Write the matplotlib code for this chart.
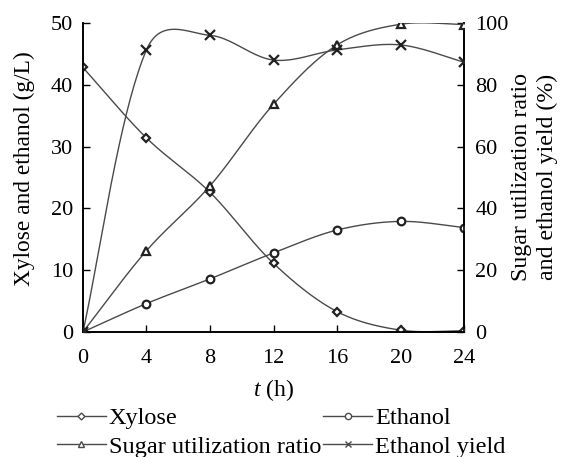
import numpy as np
import matplotlib
matplotlib.use("Agg")
import matplotlib.pyplot as plt
from matplotlib.lines import Line2D

plt.rcParams['font.family'] = ['Liberation Serif', 'DejaVu Serif']
plt.rcParams['mathtext.fontset'] = 'custom'
plt.rcParams['mathtext.it'] = 'Liberation Serif:italic'
plt.rcParams['mathtext.rm'] = 'Liberation Serif'

t = [0, 4, 8, 12, 16, 20, 24]
xylose = [42.8, 31.4, 22.6, 11.1, 3.3, 0.3, 0.2]
ethanol = [0.0, 4.6, 8.6, 12.8, 16.5, 17.9, 16.9]
sugar_util = [0.0, 26.3, 47.3, 73.7, 92.9, 99.6, 99.5]
ethanol_yield = [0.0, 91.3, 96.0, 88.0, 91.3, 92.9, 87.3]


def smooth(x, y, xscale, yscale, n=40):
    """Smoothed line (Bezier with length-weighted Catmull-Rom control points),
    computed in screen-like units."""
    P = np.column_stack([np.asarray(x, float) * xscale, np.asarray(y, float) * yscale])
    out = []
    m = len(P)
    for i in range(m - 1):
        p0 = P[i - 1] if i > 0 else P[i]
        p1 = P[i]
        p2 = P[i + 1]
        p3 = P[i + 2] if i + 2 < m else P[i + 1]
        d01 = np.linalg.norm(p1 - p0)
        d12 = np.linalg.norm(p2 - p1)
        d23 = np.linalg.norm(p3 - p2)
        w1 = d12 / (d01 + d12) if (d01 + d12) > 0 else 0.5
        w2 = d12 / (d12 + d23) if (d12 + d23) > 0 else 0.5
        w1 = (w1 + 0.5) / 2
        w2 = (w2 + 0.5) / 2
        c1 = p1 + (p2 - p0) * w1 / 3.0
        c2 = p2 - (p3 - p1) * w2 / 3.0
        s = np.linspace(0, 1, n)[:, None]
        seg = ((1 - s) ** 3) * p1 + 3 * ((1 - s) ** 2) * s * c1 + 3 * (1 - s) * s ** 2 * c2 + s ** 3 * p2
        out.append(seg if i == 0 else seg[1:])
    out = np.vstack(out)
    return out[:, 0] / xscale, out[:, 1] / yscale


fig = plt.figure(figsize=(5.64, 4.57), dpi=100)
ax = fig.add_axes([0.147, 0.2735, 0.676, 0.6762])
ax2 = ax.twinx()

lc = '#4a4a4a'
mec = '#222222'
ms = 5.5
mew = 1.6

XS = 381 / 24.0
# left-axis series
for data, mk in [(xylose, 'D'), (ethanol, 'o')]:
    sx, sy = smooth(t, data, XS, 309 / 50.0)
    ax.plot(sx, sy, color=lc, lw=1.0, zorder=2)
    ax.plot(t, data, linestyle='none', marker=mk, ms=ms if mk == 'o' else ms - 1,
            mfc='white', mec=mec, mew=mew, zorder=3)

# right-axis series
for data, mk in [(sugar_util, '^'), (ethanol_yield, 'x')]:
    sx, sy = smooth(t, data, XS, 309 / 100.0)
    ax2.plot(sx, sy, color=lc, lw=1.0, zorder=2)
    ax2.plot(t, data, linestyle='none', marker=mk, ms=ms + (0.5 if mk == '^' else 1),
             mfc='white', mec=mec, mew=mew, zorder=3)

ax.set_xlim(0, 24)
ax.set_ylim(0, 50)
ax2.set_ylim(0, 100)
ax.set_xticks(t)
ax.set_yticks([0, 10, 20, 30, 40, 50])
ax2.set_yticks([0, 20, 40, 60, 80, 100])

for a in (ax, ax2):
    a.spines['top'].set_visible(False)
    for s in a.spines.values():
        s.set_linewidth(1.2)
        s.set_color('black')
ax.tick_params(axis='y', direction='in', length=5, width=1.0, labelsize=16, pad=7)
ax.tick_params(axis='x', direction='in', length=5, width=1.0, labelsize=16, pad=12)
ax2.tick_params(axis='y', direction='in', length=5, width=1.0, labelsize=16, pad=8)

ax.set_xlabel(r'$t$ (h)', fontsize=17, labelpad=7)
fig.text(24 / 564, 1 - 169 / 457, 'Xylose and ethanol (g/L)', fontsize=16.8,
         rotation=90, ha='center', va='center')
fig.text(534.5 / 564, 1 - 177 / 457, 'Sugar utilization ratio\nand ethanol yield (%)',
         fontsize=17.2, rotation=90, ha='center', va='center', multialignment='center',
         linespacing=1.35)

handles = [
    Line2D([], [], color=lc, lw=1.0, marker='D', ms=3.5, mfc='white', mec=lc, mew=1.0),
    Line2D([], [], color=lc, lw=1.0, marker='^', ms=4, mfc='white', mec=lc, mew=1.0),
    Line2D([], [], color=lc, lw=1.0, marker='o', ms=4.5, mfc='white', mec=lc, mew=1.0),
    Line2D([], [], color=lc, lw=1.0, marker='x', ms=4.5, mfc='white', mec=lc, mew=1.0),
]
labels = ['Xylose', 'Sugar utilization ratio', 'Ethanol', 'Ethanol yield']
fig.legend(handles, labels, ncol=2, loc='upper left',
           bbox_to_anchor=(57 / 564, 1 - 407 / 457),
           frameon=False, fontsize=17.5, handlelength=2.0, handletextpad=0.12,
           columnspacing=0.1, labelspacing=0.27, borderaxespad=0.0, borderpad=0.0)

fig.savefig('out.png', dpi=100, facecolor='white')
